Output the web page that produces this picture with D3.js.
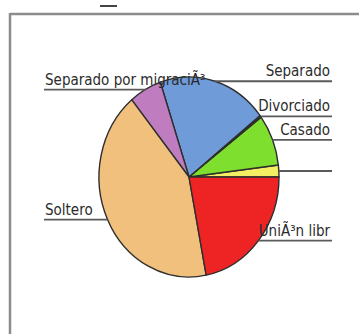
<!DOCTYPE html>
<html>
<head>
<meta charset="utf-8">
<script src="https://cdn.jsdelivr.net/npm/d3@7"></script>
<style>
  html, body { margin: 0; padding: 0; background: #ffffff; }
  svg { display: block; }
</style>
</head>
<body>
<svg id="chart" width="359" height="334"></svg>
<script>
// Categories in drawing order (counter-clockwise from 3 o'clock)
const categories = ["", "Casado", "Divorciado", "Separado", "Separado por migraciÃ³", "Soltero", "UniÃ³n libr"];
// Share of each category (percent)
const shares = [1.9, 8.3, 0.3, 19.6, 5.8, 42.0, 21.9];
const colors = ["#f3ee62", "#7fdf2e", "#5b6b2a", "#6f9bd8", "#bf7cbf", "#f0c07c", "#ee2323"];

const W = 359, H = 334;
const cx = 189, cy = 177, rx = 90, ry = 100;
const rightEdge = 332, leftEdge = 44;

const svg = d3.select("#chart");

// frame
svg.append("line").attr("x1", 10).attr("y1", 14).attr("x2", W).attr("y2", 14)
  .attr("stroke", "#8c8c8c").attr("stroke-width", 2.5);
svg.append("line").attr("x1", 10).attr("y1", 13).attr("x2", 10).attr("y2", H)
  .attr("stroke", "#8c8c8c").attr("stroke-width", 2.5);
svg.append("line").attr("x1", 100).attr("y1", 6).attr("x2", 117).attr("y2", 6)
  .attr("stroke", "#444").attr("stroke-width", 2);

const data = categories.map((c, i) => ({ name: c, value: shares[i], color: colors[i] }));

const pie = d3.pie().value(d => d.value).sort(null)
  .startAngle(Math.PI / 2).endAngle(Math.PI / 2 - 2 * Math.PI);
const arcs = pie(data);

const arc = d3.arc().innerRadius(0).outerRadius(rx);

const g = svg.append("g")
  .attr("transform", `translate(${cx},${cy}) scale(1,${ry / rx})`);

g.selectAll("path.slice").data(arcs).enter().append("path")
  .attr("class", "slice")
  .attr("d", arc)
  .attr("fill", d => d.data.color)
  .attr("stroke", "#2e2e2e")
  .attr("stroke-width", 1.4)
  .attr("stroke-linejoin", "round")
  .attr("vector-effect", "non-scaling-stroke");

// labels with horizontal leader lines
const labels = svg.append("g");
arcs.forEach(d => {
  const mid = (d.startAngle + d.endAngle) / 2;
  const px = cx + rx * Math.sin(mid);
  const py = cy - ry * Math.cos(mid);
  const right = Math.sin(mid) > 0;
  labels.append("line")
    .attr("x1", right ? px : leftEdge).attr("x2", right ? rightEdge : px)
    .attr("y1", py).attr("y2", py)
    .attr("stroke", "#5a5a5a").attr("stroke-width", 1.8);
  labels.append("text")
    .attr("x", right ? rightEdge - 2 : leftEdge + 1)
    .attr("y", py - 5)
    .attr("text-anchor", right ? "end" : "start")
    .attr("font-family", "DejaVu Sans Condensed, DejaVu Sans, sans-serif")
    .attr("font-size", 15)
    .attr("fill", "#2b2b2b")
    .text(d.data.name);
});
</script>
</body>
</html>
